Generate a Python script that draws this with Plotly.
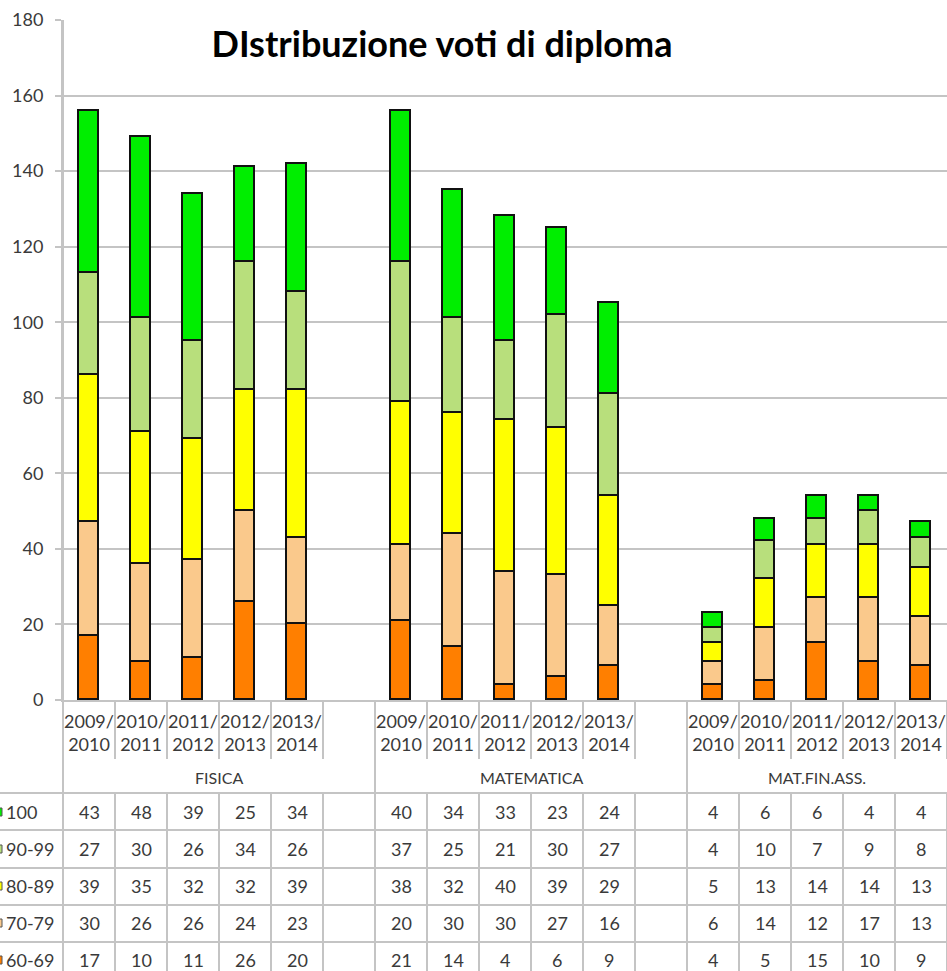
import plotly.graph_objects as go

# ---------------- data ----------------
groups = ["FISICA", "MATEMATICA", "MAT.FIN.ASS."]
years = ["2009/2010", "2010/2011", "2011/2012", "2012/2013", "2013/2014"]
series_names = ["60-69", "70-79", "80-89", "90-99", "100"]
v60_69 = [17, 10, 11, 26, 20, 21, 14, 4, 6, 9, 4, 5, 15, 10, 9]
v70_79 = [30, 26, 26, 24, 23, 20, 30, 30, 27, 16, 6, 14, 12, 17, 13]
v80_89 = [39, 35, 32, 32, 39, 38, 32, 40, 39, 29, 5, 13, 14, 14, 13]
v90_99 = [27, 30, 26, 34, 26, 37, 25, 21, 30, 27, 4, 10, 7, 9, 8]
v100 = [43, 48, 39, 25, 34, 40, 34, 33, 23, 24, 4, 6, 6, 4, 4]
series_values = [v60_69, v70_79, v80_89, v90_99, v100]
colors = ["#FF7F00", "#FAC98C", "#FFFF00", "#B8DF7C", "#00EE00"]
title_text = "DIstribuzione voti di diploma"

# ---------------- layout geometry ----------------
W, H = 947, 971
ML, MR, MT, MB = 63, 0, 20, 271
PW, PH = W - ML - MR, H - MT - MB
FONT = "Lato"
GRID = "#C4C4C4"
TXT = "#3A3A3A"

def py(p):   # pixel row -> paper y
    return (H - MB - p) / PH

def px(p):   # pixel column -> paper x
    return (p - ML) / PW

slot = 6
xs = [g * slot + i for g in range(len(groups)) for i in range(len(years))]
labels = [y.replace("/", "/<br>") for y in years] * len(groups)
n_slots = slot * (len(groups) - 1) + len(years)   # 17

fig = go.Figure()
for name, vals, col in zip(series_names, series_values, colors):
    fig.add_trace(go.Bar(
        x=xs, y=vals, name=name, width=0.385,
        marker=dict(color=col, line=dict(color="#111111", width=1.6)),
        showlegend=False,
    ))

shapes = []
annotations = []
boundaries = [b - 0.5 for b in range(n_slots + 1)]
group_bounds = [g * slot - 0.5 for g in range(len(groups))]

# year dividers under the axis
for b in boundaries:
    if b in group_bounds:
        continue
    shapes.append(dict(type="line", xref="x", yref="paper", x0=b, x1=b,
                       y0=0, y1=py(759), line=dict(color=GRID, width=2)))
# group dividers (full height)
for b in group_bounds[1:]:
    shapes.append(dict(type="line", xref="x", yref="paper", x0=b, x1=b,
                       y0=0, y1=py(990), line=dict(color=GRID, width=2)))
shapes.append(dict(type="line", xref="paper", yref="paper", x0=0, x1=0,
                   y0=1, y1=py(990), line=dict(color=GRID, width=2)))
# table vertical lines
for b in boundaries:
    if b in group_bounds:
        continue
    shapes.append(dict(type="line", xref="x", yref="paper", x0=b, x1=b,
                       y0=py(793), y1=py(990), line=dict(color=GRID, width=2)))
# table horizontal lines
row_lines = [793, 830, 868, 905, 942]
for r in row_lines:
    shapes.append(dict(type="line", xref="paper", yref="paper", x0=px(0), x1=1,
                       y0=py(r), y1=py(r), line=dict(color=GRID, width=2)))

# group labels
group_centers = [2.5, 8.5, 14]
for gname, gc in zip(groups, group_centers):
    annotations.append(dict(text=gname, x=gc, xref="x", y=py(777), yref="paper",
                            showarrow=False, font=dict(family=FONT, size=16, color=TXT),
                            xanchor="center", yanchor="middle"))

# table rows (top: 100 ... bottom: 60-69)
row_centers = [812, 849, 886, 923, 960]
for rc, name, vals, col in zip(row_centers, series_names[::-1], series_values[::-1], colors[::-1]):
    annotations.append(dict(text=name, x=px(4), xref="paper", y=py(rc), yref="paper",
                            showarrow=False, font=dict(family=FONT, size=18, color=TXT),
                            xanchor="left", yanchor="middle"))
    shapes.append(dict(type="rect", xref="paper", yref="paper",
                       x0=px(-6), x1=px(2), y0=py(rc - 4), y1=py(rc + 4),
                       fillcolor=col, line=dict(color="#555555", width=1)))
    for xv, v in zip(xs, vals):
        annotations.append(dict(text=str(v), x=xv, xref="x", y=py(rc), yref="paper",
                                showarrow=False, font=dict(family=FONT, size=18, color=TXT),
                                xanchor="center", yanchor="middle"))

fig.update_layout(
    width=W, height=H,
    margin=dict(l=ML, r=MR, t=MT, b=MB, autoexpand=False),
    barmode="stack",
    plot_bgcolor="white", paper_bgcolor="white",
    title=dict(text="<b>" + title_text + "</b>", x=442 / W, xanchor="center",
               y=1 - 44 / H, yanchor="middle",
               font=dict(family=FONT, size=36, color="#000000")),
    xaxis=dict(range=[-0.5, n_slots - 0.5], tickvals=xs, ticktext=labels,
               tickfont=dict(family=FONT, size=18, color=TXT),
               showgrid=False, zeroline=False, showline=True, linecolor=GRID,
               linewidth=2, ticks="", fixedrange=True, automargin=False,
               ticklabelstandoff=4),
    yaxis=dict(range=[0, 180], dtick=20, tick0=0,
               tickfont=dict(family=FONT, size=18, color=TXT),
               showgrid=True, gridcolor=GRID, gridwidth=2,
               zeroline=False, showline=True, linecolor=GRID, linewidth=2,
               ticks="outside", ticklen=6, tickcolor=GRID, tickwidth=2,
               ticklabelstandoff=8, automargin=False, fixedrange=True),
    shapes=shapes,
    annotations=annotations,
    bargap=0,
)

fig.write_html("out.html",
               config={"displayModeBar": False},
               post_script="document.body.style.margin='0';document.body.style.overflow='hidden';")
